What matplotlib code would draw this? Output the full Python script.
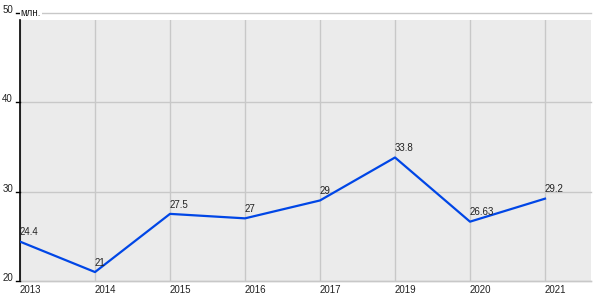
import matplotlib
matplotlib.use("Agg")
import matplotlib.pyplot as plt
from matplotlib.transforms import blended_transform_factory, offset_copy

years = ["2013", "2014", "2015", "2016", "2017", "2019", "2020", "2021"]
values = [24.4, 21, 27.5, 27, 29, 33.8, 26.63, 29.2]
labels = ["24.4", "21", "27.5", "27", "29", "33.8", "26.63", "29.2"]
yticks = [20, 30, 40, 50]
unit = "млн."

plt.rcParams['font.family'] = ['Liberation Sans', 'DejaVu Sans']
FS = 7
TXT = '#222222'

fig = plt.figure(figsize=(6, 3), dpi=100)
ax = fig.add_axes([20/600, 19/300, 571/600, 261/300])
ax.set_facecolor('#EBEBEB')
x = list(range(len(years)))

ax.set_xticks(x)
ax.set_xticklabels(years, fontsize=FS, ha='left', color=TXT)
ax.set_yticks([])
ax.set_xlim(0, 571/75)
ax.set_ylim(20, 20 + 261/8.95)

for xi in x:
    ax.axvline(xi, color='#C8C8C8', lw=1, zorder=1)
for yv in yticks:
    ax.axhline(yv, color='#C8C8C8', lw=1, zorder=1, clip_on=False)

ax.plot(x, values, color='#0046E6', lw=1.6, zorder=3)
for xi, v, lab in zip(x, values, labels):
    ax.annotate(lab, (xi, v), xytext=(0, 4.5), textcoords='offset points',
                ha='left', va='baseline', fontsize=FS, color=TXT, zorder=4)

# y tick marks and labels (labels sit on the tick line)
trans = blended_transform_factory(ax.transAxes, ax.transData)
for yv in yticks:
    ax.plot([-4/571, 0], [yv, yv], transform=trans, color='black', lw=1,
            clip_on=False, zorder=5)
    ax.text(-7/571, yv, str(yv), transform=trans, ha='right', va='baseline',
            fontsize=FS, color=TXT, clip_on=False)

ax.text(0.5/571, 50, unit, transform=offset_copy(trans, fig=fig, x=0, y=-2.2, units='points'),
        fontsize=FS, ha='left', va='baseline', color=TXT, clip_on=False, zorder=6,
        bbox=dict(facecolor='white', edgecolor='none', pad=0.6))

ax.tick_params(axis='x', length=0, pad=3)

for s in ['top', 'right']:
    ax.spines[s].set_visible(False)
ax.spines['left'].set_color('black')
ax.spines['left'].set_linewidth(1.2)
ax.spines['bottom'].set_color('#C8C8C8')
ax.spines['bottom'].set_linewidth(1)

fig.savefig("out.png", dpi=100)
